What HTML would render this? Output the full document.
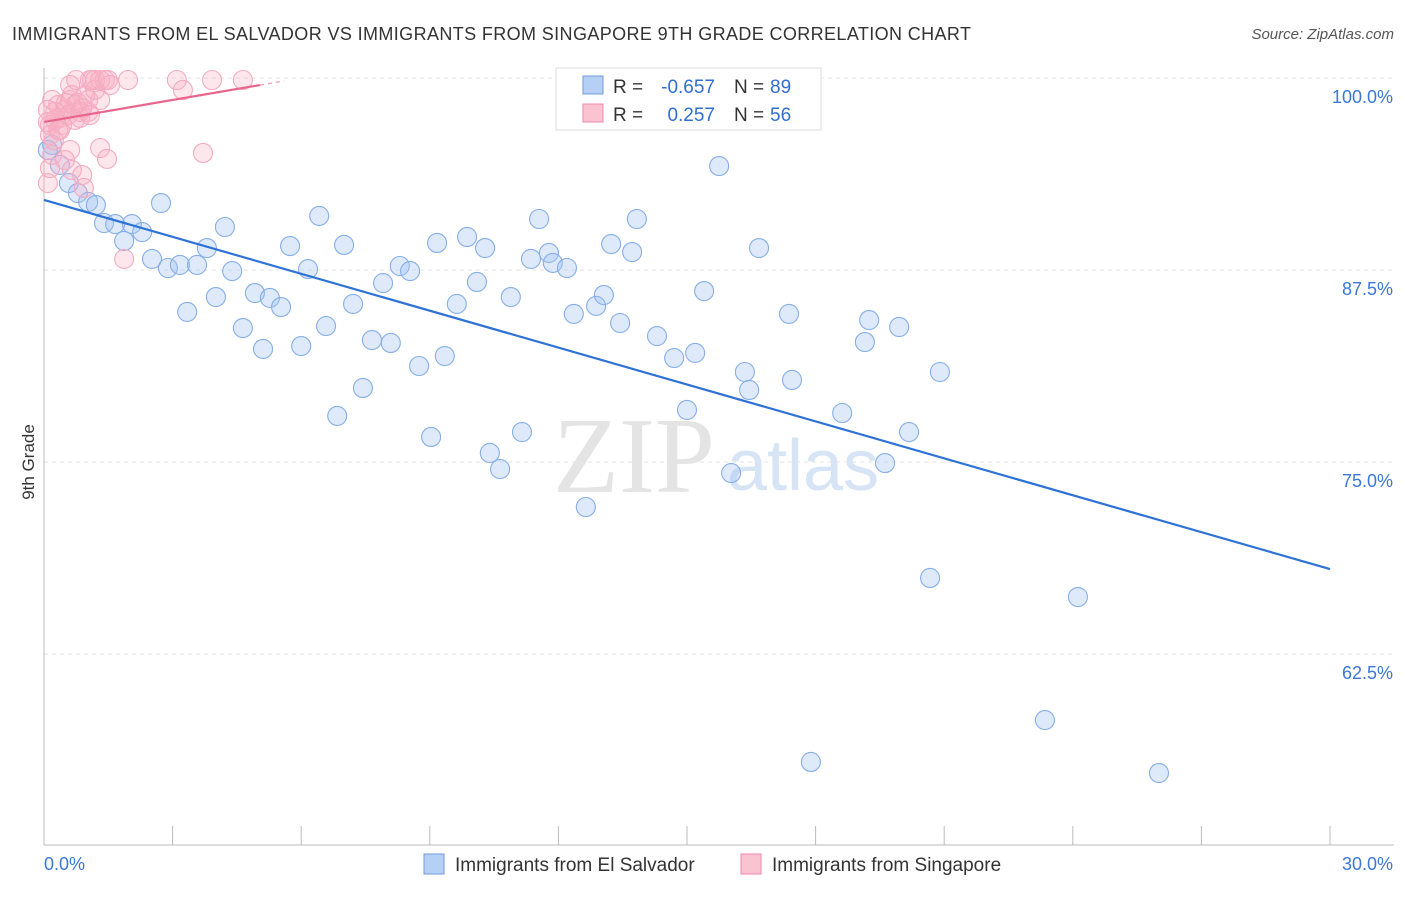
<!DOCTYPE html>
<html><head><meta charset="utf-8"><style>
body{margin:0;background:#fff;font-family:"Liberation Sans",sans-serif}
</style></head><body>
<svg width="1406" height="892" id="c" xmlns="http://www.w3.org/2000/svg" style="font-family:'Liberation Sans',sans-serif">
<text x="12" y="40" font-size="18" fill="#333" textLength="959">IMMIGRANTS FROM EL SALVADOR VS IMMIGRANTS FROM SINGAPORE 9TH GRADE CORRELATION CHART</text>
<text x="1394" y="39" font-size="15" fill="#555" text-anchor="end" font-style="italic">Source: ZipAtlas.com</text>
<text x="634" y="492" font-size="108" fill="#e4e4e4" font-family="Liberation Serif" text-anchor="middle">ZIP</text>
<text x="803" y="490" font-size="72" fill="#d6e4f5" text-anchor="middle">atlas</text>
<text x="34" y="462" font-size="17" fill="#333" text-anchor="middle" transform="rotate(-90 34 462)">9th Grade</text>
<g id="grid"></g><g id="pts"></g><g id="lines"></g>
<g>
<rect x="556" y="68" width="265" height="62" fill="#fff" stroke="#ddd"/>
<rect x="583" y="76" width="20" height="18" fill="#b5cff5" stroke="#6f9be0"/>
<rect x="583" y="104" width="20" height="18" fill="#f9c3d2" stroke="#f08aa8"/>
<text x="613" y="93" font-size="19" fill="#333">R =</text>
<text x="715" y="93" font-size="19" fill="#2f6fd0" text-anchor="end">-0.657</text>
<text x="734" y="93" font-size="19" fill="#333">N =</text>
<text x="770" y="93" font-size="19" fill="#2f6fd0">89</text>
<text x="613" y="121" font-size="19" fill="#333">R =</text>
<text x="715" y="121" font-size="19" fill="#2f6fd0" text-anchor="end">0.257</text>
<text x="734" y="121" font-size="19" fill="#333">N =</text>
<text x="770" y="121" font-size="19" fill="#2f6fd0">56</text>
</g>
<g>
<rect x="424" y="854" width="20" height="20" fill="#b5cff5" stroke="#6f9be0"/>
<text x="455" y="871" font-size="19" fill="#333">Immigrants from El Salvador</text>
<rect x="741" y="854" width="20" height="20" fill="#f9c3d2" stroke="#f08aa8"/>
<text x="772" y="871" font-size="19" fill="#333">Immigrants from Singapore</text>
</g>
</svg>
<script>
const yTicks=[100,87.5,75,62.5];
const yTickLabels=["100.0%","87.5%","75.0%","62.5%"];
const xTickLabels=["0.0%","30.0%"];
const blueX=[0.58,0.79,1.03,1.21,1.40,1.66,1.87,2.05,2.29,2.52,2.73,2.89,3.17,3.34,3.57,3.80,4.01,4.22,4.39,4.64,4.92,5.11,5.27,5.53,5.74,6.00,6.16,6.42,6.58,6.84,7.00,7.21,7.44,7.65,7.91,8.09,8.30,8.54,8.75,9.03,9.17,9.35,9.63,9.87,10.10,10.29,10.40,10.64,10.89,11.15,11.36,11.55,11.78,11.87,12.20,12.36,12.64,12.88,13.06,13.23,13.44,13.72,13.83,14.30,14.70,15.00,15.19,15.40,15.75,16.03,16.35,16.45,16.68,17.38,17.45,17.89,18.62,19.15,19.25,19.62,19.95,20.18,20.67,20.90,23.35,24.12,26.01,0.19,0.37,0.09];
const blueY=[93.16,92.51,91.93,91.73,90.56,90.49,89.39,90.49,89.97,88.22,91.86,87.63,87.83,84.77,87.83,88.93,85.74,90.30,87.43,83.72,86.00,82.36,85.68,85.09,89.06,82.55,87.56,91.02,83.85,78.00,89.13,85.29,79.82,82.94,86.65,82.75,87.76,87.43,81.25,76.63,89.26,81.90,85.29,89.65,86.72,88.93,75.59,74.54,85.74,76.95,88.22,90.82,88.61,87.96,87.63,84.64,72.07,85.16,85.87,89.19,84.05,88.67,90.82,83.20,81.77,78.39,82.10,86.13,94.27,74.28,80.86,79.69,88.93,84.64,80.34,55.47,78.19,82.81,84.24,74.93,83.79,76.95,67.45,80.86,58.20,66.21,54.75,95.64,94.34,95.31];
const pinkX=[0.09,0.14,0.19,0.23,0.14,0.26,0.37,0.49,0.61,0.72,0.84,0.96,1.07,1.19,1.31,1.42,1.54,1.96,3.10,3.24,3.92,4.64,0.61,0.37,0.33,0.49,0.65,0.89,0.93,1.31,1.47,1.87,3.71,0.19,0.09,0.14,0.42,0.56,0.72,0.84,1.03,1.19,0.26,0.33,0.51,0.65,0.79,1.03,1.12,1.31,1.49,0.75,0.89,1.07,0.61,0.09];
const pinkY=[93.16,94.14,94.99,95.96,96.94,97.27,97.40,97.92,98.57,98.24,97.79,98.89,99.87,99.87,98.57,99.87,99.54,99.87,99.87,99.22,99.87,99.87,99.54,96.61,98.24,94.66,94.01,93.68,92.84,95.44,94.73,88.22,95.12,98.57,97.92,96.29,96.94,97.59,97.27,97.40,97.79,99.22,97.79,96.61,98.37,98.89,98.37,98.57,99.87,99.87,99.87,99.87,98.05,97.59,95.31,97.14];
const blueTrend=[0,92.06,30,68.03];
const pinkTrend=[0,97.14,5.04,99.54];
const X0=44,X1=1330,Y100=78,PX=192/12.5;
const sx=v=>X0+(v/30)*(X1-X0);
const sy=v=>Y100+(100-v)*PX;
const NS="http://www.w3.org/2000/svg";
function mk(tag,attrs,parent){const e=document.createElementNS(NS,tag);for(const k in attrs)e.setAttribute(k,attrs[k]);parent.appendChild(e);return e;}
const g=document.getElementById('grid');
yTicks.forEach((t,i)=>{
 const l=mk('line',{x1:X0,x2:1394,y1:sy(t),y2:sy(t),stroke:'#e6e6e6','stroke-dasharray':'4,4'},g);
 
 
 const tx=mk('text',{x:1393,y:sy(t)+25,'font-size':18,fill:'#3a78d8','text-anchor':'end'},g);
 tx.textContent=yTickLabels[i];
 
 
});
const ax=mk('line',{x1:X0,x2:X0,y1:68,y2:845,stroke:'#bbb'},g);


const bx=mk('line',{x1:X0,x2:1394,y1:845,y2:845,stroke:'#bbb'},g);


for(let i=0;i<=10;i++){const v=i*3;const t=mk('line',{x1:sx(v),x2:sx(v),y1:826,y2:845,stroke:'#bbb'},g);
 
 }
[[0,'start'],[30,'end']].forEach((p,i)=>{const t=mk('text',{x:sx(p[0])+(i?63:0),y:870,'font-size':18,fill:'#3a78d8','text-anchor':i?'end':'start'},g);t.textContent=xTickLabels[i];
 
 });
const pg=document.getElementById('pts');
blueX.forEach((x,i)=>{const c=mk('circle',{cx:sx(x),cy:sy(blueY[i]),r:9.5,fill:'rgba(160,196,242,0.35)',stroke:'#86aee8','stroke-width':1.1},pg);
 
 });
pinkX.forEach((x,i)=>{const c=mk('circle',{cx:sx(x),cy:sy(pinkY[i]),r:9.5,fill:'rgba(247,175,196,0.3)',stroke:'#f4abc0','stroke-width':1.1},pg);
 
 });
const lg=document.getElementById('lines');
const bl=mk('line',{x1:sx(blueTrend[0]),y1:sy(blueTrend[1]),x2:sx(blueTrend[2]),y2:sy(blueTrend[3]),stroke:'#2f72d6','stroke-width':2.2},lg);


const slope=(pinkTrend[3]-pinkTrend[1])/(pinkTrend[2]-pinkTrend[0]);
const pd=mk('line',{x1:sx(pinkTrend[2]),y1:sy(pinkTrend[3]),x2:sx(5.6),y2:sy(pinkTrend[1]+slope*5.6),stroke:'#f0a0b8','stroke-width':1.3,'stroke-dasharray':'4,4'},lg);


const pl=mk('line',{x1:sx(pinkTrend[0]),y1:sy(pinkTrend[1]),x2:sx(pinkTrend[2]),y2:sy(pinkTrend[3]),stroke:'#e8668e','stroke-width':2.2},lg);


</script>
</body></html>
